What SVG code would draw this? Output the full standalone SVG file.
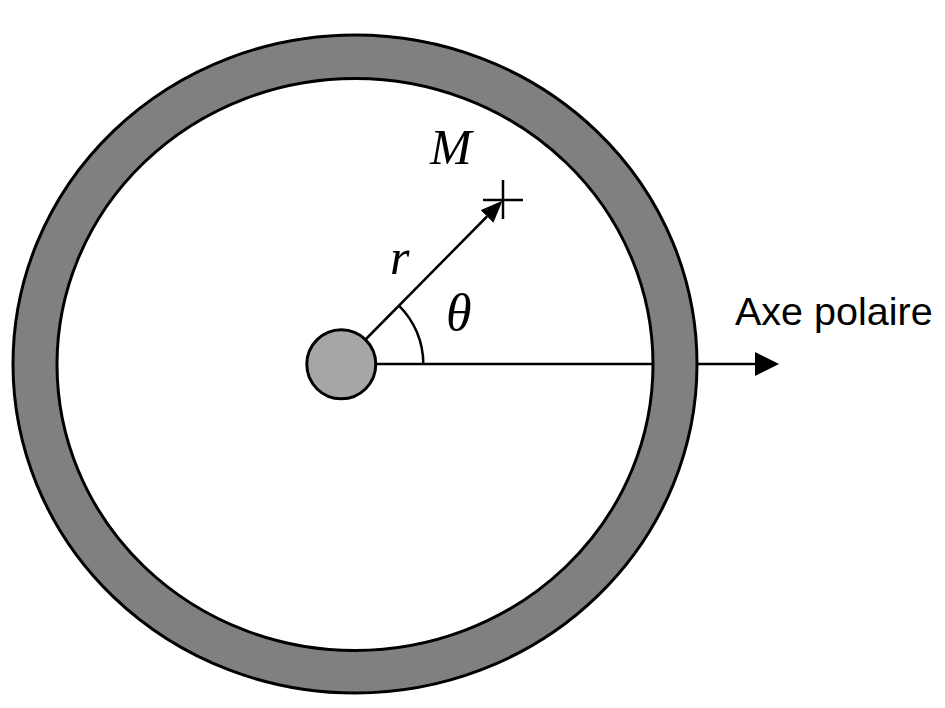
<svg xmlns="http://www.w3.org/2000/svg" width="945" height="708" viewBox="0 0 945 708">
<style>
.ln{stroke:#000;stroke-width:2.5;fill:none}
.ring{stroke:#000;stroke-width:3}
.math{font-family:"Liberation Serif","DejaVu Serif",serif;font-style:italic;fill:#000}
.lab{font-family:"Liberation Sans",Arial,sans-serif;fill:#000}
</style>
<defs>
<marker id="ah" markerUnits="userSpaceOnUse" markerWidth="24" markerHeight="24" viewBox="0 0 24 24" refX="0" refY="12" orient="auto"><path d="M0,0 L24,12 L0,24 Z" fill="#000"/></marker>
<marker id="ah2" markerUnits="userSpaceOnUse" markerWidth="22" markerHeight="18" viewBox="0 0 22 18" refX="0" refY="9" orient="auto"><path d="M0,0 L22,9 L0,18 Z" fill="#000"/></marker>
</defs>
<rect width="945" height="708" fill="#fff"/>
<g id="ring">
<ellipse cx="355" cy="364" rx="342" ry="329" fill="#808080" class="ring"/>
<ellipse cx="355" cy="364.5" rx="298" ry="286" fill="#fff" class="ring"/>
</g>
<g id="connectors">
<line x1="376" y1="364" x2="653" y2="364" class="ln"/>
<line x1="697" y1="364" x2="755" y2="364" class="ln" marker-end="url(#ah)"/>
<line x1="366" y1="339" x2="487" y2="216.5" class="ln" marker-end="url(#ah2)"/>
<path d="M423.3,364 A82,82 0 0 0 398.9,305.6" class="ln"/>
</g>
<g id="center">
<circle cx="341.3" cy="364.3" r="34.5" fill="#a6a6a6" stroke="#000" stroke-width="3"/>
</g>
<g id="pointM">
<line x1="483" y1="200" x2="523" y2="200" class="ln"/>
<line x1="503" y1="180" x2="503" y2="219" class="ln"/>
<text x="430" y="164" class="math" font-size="50">M</text>
</g>
<g id="labels">
<text x="390" y="274" class="math" font-size="50">r</text>
<text x="446" y="330" class="math" font-size="52">θ</text>
<text x="735" y="325" class="lab" font-size="39.5">Axe polaire</text>
</g>
</svg>
